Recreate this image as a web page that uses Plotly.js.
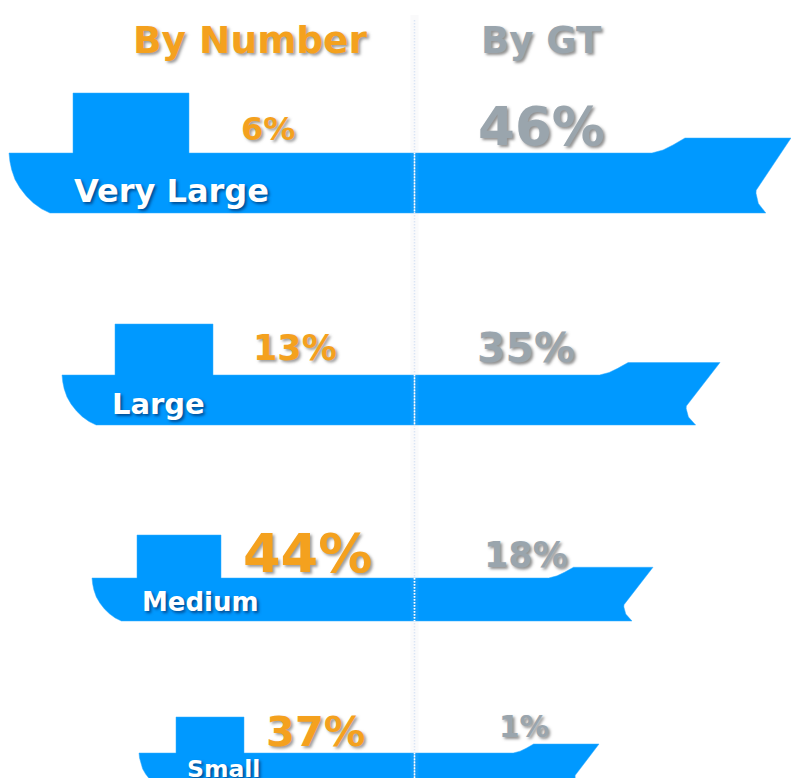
<!DOCTYPE html>
<html>
<head>
<meta charset="utf-8">
<script src="https://cdn.plot.ly/plotly-3.0.1.min.js"></script>
<style>html,body{margin:0;padding:0;background:#fff;overflow:hidden}</style>
</head>
<body>
<div id="chart" style="width:791px;height:778px"></div>
<script>
// Values
var categories = ['Very Large', 'Large', 'Medium', 'Small'];
var byNumber = [6, 13, 44, 37];
var byGT = [46, 35, 18, 1];
var columnTitles = ['By Number', 'By GT'];

// Ship silhouettes, in axis units
var shipLeft = [9, 62, 92, 139];
var shipTip = [791, 720, 653, 599];
var deckY = [153, 375, 578, 753];
var hullH = [60, 50, 43, 36];
var sheerW = [60, 52, 45, 37];
var notchW = [60, 58, 50, 41];
var houseL = [73, 115, 137, 176];
var houseR = [189, 213, 221, 244];
var houseTop = [93, 324, 535, 717];

// Hull profile templates, in units of hull height
var sheerDx = [2.317, 2.133, 1.967, 1.767];
var sheerDy = [0, -0.05, -0.133, -0.25];
var notchDx = [0, 0.49, 0.55, 0.58, 0.583, 0.544, 0.42];
var notchDy = [-0.25, 0.478, 0.56, 0.62, 0.672, 0.84, 1];
var sternDx = [0.683, 0.54, 0.406, 0.29, 0.183, 0.1, 0.044, 0.015, 0];
var sternDy = [1, 0.93, 0.833, 0.72, 0.583, 0.44, 0.278, 0.14, 0];

// Label placement and styling
var numX = [268, 295, 307, 315], numY = [129, 348, 553, 731], numSize = [32, 35, 54, 41.5];
var gtX = [541, 526, 526, 524], gtY = [126, 348, 555, 727], gtSize = [53, 41, 35, 29.5];
var nameX = [171, 158, 200, 223], nameY = [191, 404, 602, 769], nameSize = [32, 29, 26, 23.5];
var titleX = [250, 541], titleY = [40, 40], titleSize = [37.5, 37];
var BLUE = '#0099ff', ORANGE = '#f4a11e', GRAY = '#9aa5ad';
var FONT = '"DejaVu Sans", Verdana, sans-serif';

var traces = [];
categories.forEach(function (name, i) {
  var h = hullH[i], xs = [], ys = [];
  sheerDx.forEach(function (d, k) { xs.push(shipTip[i] - d * sheerW[i]); ys.push(deckY[i] + sheerDy[k] * h); });
  notchDx.forEach(function (d, k) { xs.push(shipTip[i] - d * notchW[i]); ys.push(deckY[i] + notchDy[k] * h); });
  sternDx.forEach(function (d, k) { xs.push(shipLeft[i] + d * h); ys.push(deckY[i] + sternDy[k] * h); });
  xs.push(houseL[i], houseL[i], houseR[i], houseR[i], xs[0]);
  ys.push(deckY[i], houseTop[i], houseTop[i], deckY[i], ys[0]);
  traces.push({ x: xs, y: ys, mode: 'lines', fill: 'toself', fillcolor: BLUE,
    line: { width: 0.5, color: '#33adff' }, hoverinfo: 'skip', showlegend: false, name: name });
});

// Centre divider: soft band, pale dots, white dots where it crosses a hull
var divX = 414.5;
traces.push({ x: [divX, divX], y: [15, 778], mode: 'lines',
  line: { color: 'rgba(190,195,210,0.08)', width: 8 }, hoverinfo: 'skip', showlegend: false });
traces.push({ x: [divX, divX], y: [20, 778], mode: 'lines',
  line: { color: '#dbe5f5', width: 1.5, dash: '1.5px 1.5px' }, hoverinfo: 'skip', showlegend: false });
var wx = [], wy = [];
categories.forEach(function (n, i) {
  wx.push(divX, divX, null);
  wy.push(deckY[i], deckY[i] + hullH[i], null);
});
traces.push({ x: wx, y: wy, mode: 'lines',
  line: { color: '#ffffff', width: 1.5, dash: '1.5px 1.5px' }, hoverinfo: 'skip', showlegend: false });

function note(text, x, y, size, color, shadow) {
  return { text: '<b>' + text + '</b>', x: x, y: y, xref: 'x', yref: 'y', showarrow: false,
    xanchor: 'center', yanchor: 'middle',
    font: { family: FONT, size: size, color: color, shadow: shadow } };
}
var SH_O = '2px 2px 3px rgba(90,90,90,0.6)';
var SH_G = '2px 2px 3px rgba(70,70,70,0.6)';
var SH_W = '2px 2px 3px rgba(0,50,110,0.75)';
var annotations = [
  note(columnTitles[0], titleX[0], titleY[0], titleSize[0], ORANGE, SH_O),
  note(columnTitles[1], titleX[1], titleY[1], titleSize[1], GRAY, SH_G)
];
categories.forEach(function (name, i) {
  annotations.push(note(byNumber[i] + '%', numX[i], numY[i], numSize[i], ORANGE, SH_O));
  annotations.push(note(byGT[i] + '%', gtX[i], gtY[i], gtSize[i], GRAY, SH_G));
  annotations.push(note(name, nameX[i], nameY[i], nameSize[i], '#ffffff', SH_W));
});

var layout = {
  width: 791, height: 778,
  margin: { l: 0, r: 0, t: 0, b: 0 },
  paper_bgcolor: '#ffffff', plot_bgcolor: '#ffffff',
  xaxis: { range: [0, 791], visible: false, fixedrange: true },
  yaxis: { range: [778, 0], visible: false, fixedrange: true },
  showlegend: false,
  annotations: annotations
};
Plotly.newPlot('chart', traces, layout, { staticPlot: true, displayModeBar: false });
</script>
</body>
</html>
